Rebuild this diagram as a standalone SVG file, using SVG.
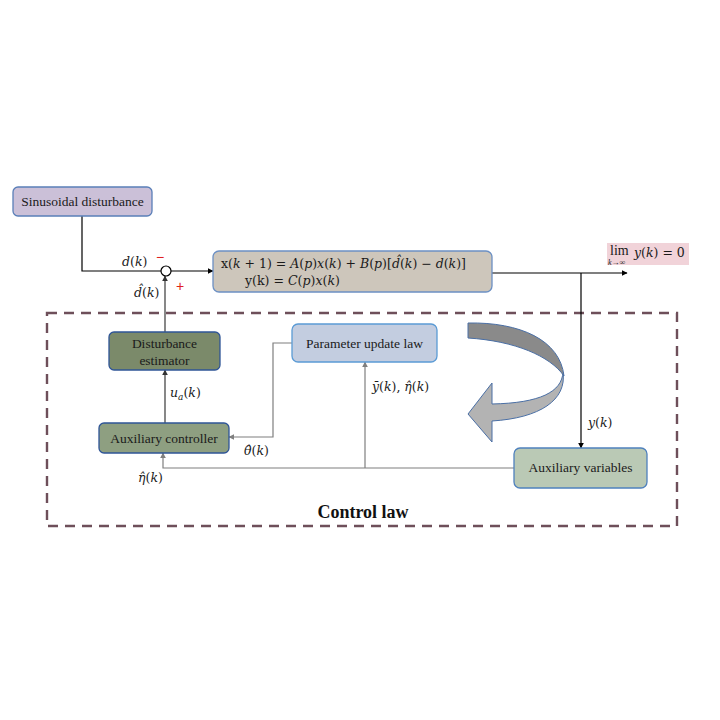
<svg xmlns="http://www.w3.org/2000/svg" width="720" height="720" viewBox="0 0 720 720">
<defs>
<style>
.box{stroke-width:1.3}
.t{font-family:"Liberation Serif","Times New Roman",serif;font-size:13.5px;fill:#1a1a1a}
.m{font-family:"DejaVu Serif","Liberation Serif",serif;font-size:12.5px;fill:#1a1a1a}
.i{font-style:italic}
.blk{stroke:#000;stroke-width:1.2;fill:none}
.gry{stroke:#7f7f7f;stroke-width:1.2;fill:none}
.dg{stroke:#555;stroke-width:1.4;fill:none}
.red{font-family:"Liberation Sans",sans-serif;font-size:14px;fill:#e02020}
</style>
<marker id="ab" viewBox="0 0 10 10" refX="9" refY="5" markerWidth="6" markerHeight="6" orient="auto" markerUnits="userSpaceOnUse"><path d="M0,0 L10,5 L0,10 z" fill="#000"/></marker>
<marker id="ag" viewBox="0 0 10 10" refX="9" refY="5" markerWidth="6" markerHeight="6" orient="auto" markerUnits="userSpaceOnUse"><path d="M0,0 L10,5 L0,10 z" fill="#7f7f7f"/></marker>
<marker id="ad" viewBox="0 0 10 10" refX="9" refY="5" markerWidth="6" markerHeight="6" orient="auto" markerUnits="userSpaceOnUse"><path d="M0,0 L10,5 L0,10 z" fill="#333"/></marker>
</defs>
<rect width="720" height="720" fill="#fff"/>

<rect x="47" y="313" width="630" height="213" fill="none" stroke="#6e4f5a" stroke-width="2.4" stroke-dasharray="10,7"/>
<text x="363" y="518" text-anchor="middle" style="font-family:'Liberation Serif',serif;font-size:18px;font-weight:bold;fill:#111">Control law</text>

<g id="connectors">
<polyline class="blk" points="82,216 82,271 161,271"/>
<line class="blk" x1="171" y1="271" x2="213" y2="271" marker-end="url(#ab)"/>
<line class="dg" x1="165" y1="332" x2="165" y2="276" marker-end="url(#ad)"/>
<line class="blk" x1="492" y1="273" x2="627" y2="273" marker-end="url(#ab)"/>
<line class="blk" x1="581" y1="273" x2="581" y2="448" marker-end="url(#ab)"/>
<line class="dg" x1="165" y1="423" x2="165" y2="370" marker-end="url(#ad)"/>
<polyline class="gry" points="292,343 273,343 273,437 229,437" marker-end="url(#ag)"/>
<polyline class="gry" points="514,468 163,468 163,453" marker-end="url(#ag)"/>
<line class="gry" x1="365" y1="468" x2="365" y2="362" marker-end="url(#ag)"/>
</g>

<g id="sum">
<circle cx="166" cy="271" r="5" fill="#fff" stroke="#000" stroke-width="1.2"/>
<text class="red" x="156" y="262">−</text>
<text class="red" x="176" y="291">+</text>
</g>

<g id="sinusoidal">
<rect class="box" x="13" y="187" width="139" height="29" rx="5" fill="#cbc0d8" stroke="#5a7fb8"/>
<text class="t" x="82.5" y="206" text-anchor="middle">Sinusoidal disturbance</text>
</g>

<g id="plant">
<rect class="box" x="213" y="251" width="279" height="41" rx="6" fill="#cdc6bb" stroke="#6c90c4"/>
<text class="m" x="221" y="268" textLength="245" lengthAdjust="spacingAndGlyphs">x(<tspan class="i">k</tspan> + 1) = <tspan class="i">A</tspan>(<tspan class="i">p</tspan>)<tspan class="i">x</tspan>(<tspan class="i">k</tspan>) + <tspan class="i">B</tspan>(<tspan class="i">p</tspan>)[<tspan class="i">d̂</tspan>(<tspan class="i">k</tspan>) − <tspan class="i">d</tspan>(<tspan class="i">k</tspan>)]</text>
<text class="m" x="245" y="285" textLength="95" lengthAdjust="spacingAndGlyphs">y(k) = <tspan class="i">C</tspan>(<tspan class="i">p</tspan>)<tspan class="i">x</tspan>(<tspan class="i">k</tspan>)</text>
</g>

<g id="limit">
<rect x="607" y="243" width="82" height="22" fill="#f1d3d9"/>
<text x="610" y="255" style="font-family:'Liberation Serif',serif;font-size:14px;fill:#1a1a1a">lim</text>
<text x="608" y="264.5" style="font-family:'Liberation Serif',serif;font-size:8px;font-style:italic;fill:#1a1a1a">k→∞</text>
<text class="m" x="634" y="257"><tspan class="i">y</tspan>(<tspan class="i">k</tspan>) = 0</text>
</g>

<g id="estimator">
<rect class="box" x="109" y="332" width="111" height="38" rx="5" fill="#7b8a6a" stroke="#2f5597"/>
<text class="t" x="164.5" y="348" text-anchor="middle">Disturbance</text>
<text class="t" x="164.5" y="365" text-anchor="middle">estimator</text>
</g>

<g id="auxcontroller">
<rect class="box" x="99" y="423" width="130" height="30" rx="5" fill="#8e9f81" stroke="#2f5597"/>
<text class="t" x="164" y="443" text-anchor="middle">Auxiliary controller</text>
</g>

<g id="paramupdate">
<rect class="box" x="292" y="324" width="145" height="38" rx="6" fill="#c3cde0" stroke="#5b9bd5"/>
<text class="t" x="364.5" y="348" text-anchor="middle">Parameter update law</text>
</g>

<g id="auxvariables">
<rect class="box" x="514" y="448" width="133" height="40" rx="6" fill="#bac9b5" stroke="#4f81bd"/>
<text class="t" x="580.5" y="472" text-anchor="middle">Auxiliary variables</text>
</g>

<g id="curved-arrow">
<path d="M563,372 C562,392 540,403 492,404 L492,383 L468,414 L492,442 L492,421 C540,418 567,400 563,372 Z" fill="#b3b3b3" stroke="#4a6fa5" stroke-width="1"/>
<path d="M468,323 C520,322 560,340 564,376 C550,356 515,341 468,338 Z" fill="#8a8a8a" stroke="#4a6fa5" stroke-width="1"/>
</g>

<g id="labels">
<text class="m" x="122" y="266"><tspan class="i">d</tspan>(<tspan class="i">k</tspan>)</text>
<text class="m" x="134" y="297"><tspan class="i">d̂</tspan>(<tspan class="i">k</tspan>)</text>
<text class="m" x="170" y="397"><tspan class="i">u</tspan><tspan class="i" font-size="9" dy="3">a</tspan><tspan dy="-3">(</tspan><tspan class="i">k</tspan>)</text>
<text class="m" x="244" y="455"><tspan class="i">θ̂</tspan>(<tspan class="i">k</tspan>)</text>
<text class="m" x="138" y="482"><tspan class="i">η̂</tspan>(<tspan class="i">k</tspan>)</text>
<text class="m" x="372" y="391"><tspan class="i">ȳ</tspan>(<tspan class="i">k</tspan>), <tspan class="i">η̂</tspan>(<tspan class="i">k</tspan>)</text>
<text class="m" x="588" y="427"><tspan class="i">y</tspan>(<tspan class="i">k</tspan>)</text>
</g>
</svg>
